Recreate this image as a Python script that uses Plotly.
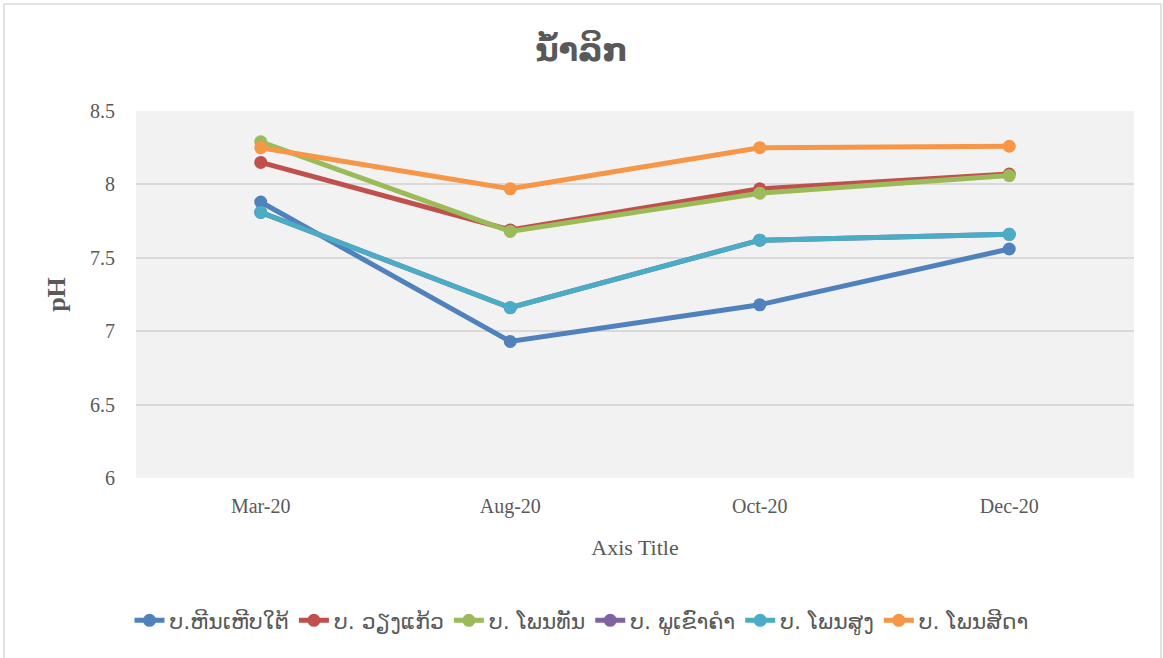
import plotly.graph_objects as go

categories = ["Mar-20", "Aug-20", "Oct-20", "Dec-20"]
series_names = ["ບ.ຫີນເຫີບໃຕ້", "ບ. ວຽງແກ້ວ", "ບ. ໂພນທັນ", "ບ. ພູເຂົາຄໍາ", "ບ. ໂພນສູງ", "ບ. ໂພນສີດາ"]
s1 = [7.88, 6.93, 7.18, 7.56]
s2 = [8.15, 7.69, 7.97, 8.07]
s3 = [8.29, 7.68, 7.94, 8.06]
s4 = [7.81, 7.16, 7.62, 7.66]
s5 = [7.81, 7.16, 7.62, 7.66]
s6 = [8.25, 7.97, 8.25, 8.26]
colors = ["#4F81BD", "#C0504D", "#9BBB59", "#8064A2", "#4BACC6", "#F79646"]

fig = go.Figure()
for name, vals, c in zip(series_names, [s1, s2, s3, s4, s5, s6], colors):
    fig.add_trace(go.Scatter(x=categories, y=vals, name=name, mode="lines+markers",
                             line=dict(color=c, width=5), marker=dict(color=c, size=13)))

serif = "Liberation Serif, DejaVu Serif, serif"
fig.update_layout(
    width=1163, height=658,
    margin=dict(l=136, r=29, t=111, b=180, autoexpand=False),
    paper_bgcolor="white", plot_bgcolor="#F2F2F2",
    title=dict(text="<b>ນ້ຳລິກ</b>", x=0.5, xanchor="center", y=0.925, yanchor="middle",
               font=dict(family="DejaVu Sans, serif", size=32, color="#595959")),
    xaxis=dict(type="category", range=[-0.5, 3.5], showgrid=False, showline=False,
               tickfont=dict(family=serif, size=20, color="#595959"), ticks="",
               ticklabelstandoff=14,
               title=dict(text="Axis Title", font=dict(family=serif, size=22, color="#595959"), standoff=22)),
    yaxis=dict(range=[6, 8.5], dtick=0.5, showgrid=True, gridcolor="#D9D9D9", gridwidth=1.5,
               zeroline=False, showline=False, ticks="",
               ticklabelstandoff=20,
               tickfont=dict(family=serif, size=20, color="#595959"),
               title=dict(text="<b>pH</b>", font=dict(family=serif, size=26, color="#595959"), standoff=16)),
    legend=dict(orientation="h", xref="container", yref="container", x=0.5, xanchor="center",
                y=0.057, yanchor="middle",
                font=dict(family="DejaVu Sans, sans-serif", size=22, color="#595959"),
                itemwidth=30, tracegroupgap=0),
    showlegend=True,
    shapes=[dict(type="rect", xref="paper", yref="paper", x0=-0.1323, x1=1.027, y0=-0.5, y1=1.2916,
                 line=dict(color="#D9D9D9", width=1.5), fillcolor="rgba(0,0,0,0)", layer="below")],
)
fig.write_html("out.html", config={"displayModeBar": False},
               post_script="document.body.style.margin='0';")
